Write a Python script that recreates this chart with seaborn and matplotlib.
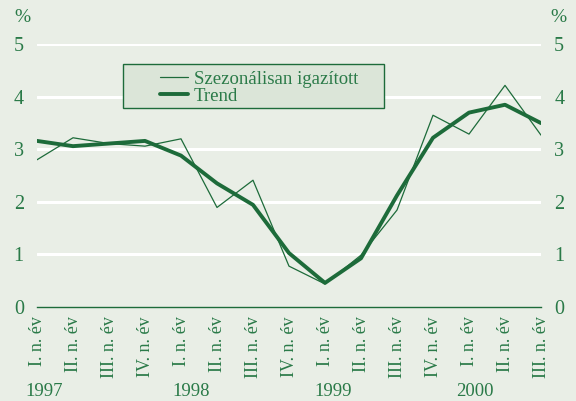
import pandas as pd
import matplotlib.pyplot as plt
from matplotlib.patches import Rectangle
import seaborn as sns

# negyedéves adatok, %
negyedevek = ['I. n. év', 'II. n. év', 'III. n. év', 'IV. n. év',
              'I. n. év', 'II. n. év', 'III. n. év', 'IV. n. év',
              'I. n. év', 'II. n. év', 'III. n. év', 'IV. n. év',
              'I. n. év', 'II. n. év', 'III. n. év']
szezonalisan = [2.80, 3.22, 3.11, 3.06, 3.20, 1.89, 2.41, 0.77, 0.43, 0.98,
                1.84, 3.65, 3.29, 4.22, 3.27]
trend = [3.16, 3.06, 3.11, 3.16, 2.88, 2.35, 1.94, 1.02, 0.45, 0.92,
         2.12, 3.22, 3.70, 3.85, 3.50]
evek = ['1997', '1998', '1999', '2000']
ev_pozicio = [0.19, 4.29, 8.22, 12.17]

bg = '#e9eee6'
zold = '#1d6b3a'
szoveg = '#2a7a48'

df = pd.DataFrame({'x': range(len(negyedevek)),
                   'Szezonálisan igazított': szezonalisan,
                   'Trend': trend})

sns.set_style('white', {'axes.facecolor': bg, 'figure.facecolor': bg})
plt.rcParams['font.family'] = ['Liberation Serif', 'DejaVu Serif']

fig = plt.figure(figsize=(5.76, 4.01), dpi=100)
ax = fig.add_axes([37/576, 1 - 306.5/401, 504/576, 262/401])

ax.grid(False)
for v in range(1, 6):
    ax.axhline(v, color='white', lw=2.2, zorder=1)

sns.lineplot(data=df, x='x', y='Szezonálisan igazított', color=zold, lw=0.9,
             ax=ax, label='Szezonálisan igazított', zorder=3)
sns.lineplot(data=df, x='x', y='Trend', color=zold, lw=2.8,
             ax=ax, label='Trend', zorder=4)

ax.set_xlim(0, 14)
ax.set_ylim(0, 5)
ax.set_xlabel('')
ax.set_ylabel('')
ax.set_xticks(range(len(negyedevek)))
ax.set_xticklabels(negyedevek, rotation=90, fontsize=13, color=szoveg)
ax.set_yticks(range(0, 6))
ax.tick_params(axis='x', direction='in', length=4, width=1, color=zold, pad=7)
ax.tick_params(axis='y', length=0, labelsize=14.5, labelcolor=szoveg, pad=9.5,
               labelright=True)
for s in ['top', 'left', 'right']:
    ax.spines[s].set_visible(False)
ax.spines['bottom'].set_color(zold)
ax.spines['bottom'].set_linewidth(1)

# évszámok
for ev, p in zip(evek, ev_pozicio):
    ax.text(p, -0.325, ev, transform=ax.get_xaxis_transform(), ha='center',
            va='center', fontsize=13.5, color=szoveg)

fig.text(22/576, 1 - 17/401, '%', ha='center', va='center', fontsize=14, color=szoveg)
fig.text(558/576, 1 - 17/401, '%', ha='center', va='center', fontsize=14, color=szoveg)

# jelmagyarázat
keret = Rectangle((123/576, 1 - 108/401), 261/576, 44/401,
                  transform=fig.transFigure, facecolor='#dbe5d8',
                  edgecolor=zold, lw=1, zorder=5, clip_on=False)
ax.add_patch(keret)
leg = ax.legend(loc='center left', bbox_to_anchor=(160/576, 1 - 87.5/401),
                bbox_transform=fig.transFigure, frameon=False, fontsize=13.5,
                handlelength=1.5, handletextpad=0.3, labelspacing=0.0,
                borderpad=0, borderaxespad=0, labelcolor=szoveg)
leg.set_zorder(6)

plt.savefig('out.png', dpi=100, facecolor=bg)
